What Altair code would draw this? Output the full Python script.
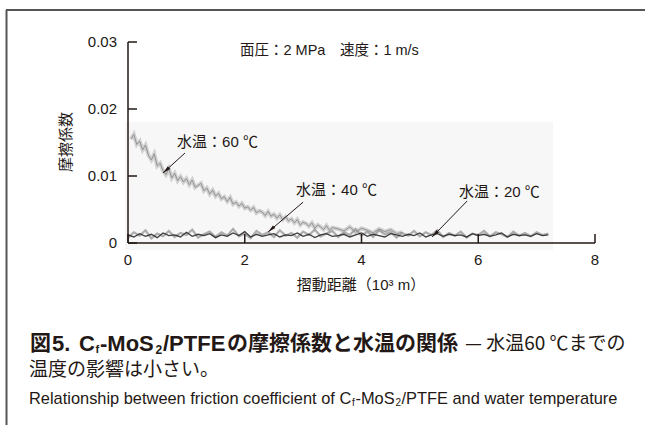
import altair as alt
import pandas as pd

# ---------------- data ----------------
x60 = [0.05, 0.10, 0.15, 0.20, 0.25, 0.30, 0.35, 0.40, 0.45, 0.50,
       0.55, 0.60, 0.65, 0.70, 0.75, 0.80, 0.85, 0.90, 0.95, 1.00,
       1.05, 1.10, 1.15, 1.20, 1.25, 1.30, 1.35, 1.40, 1.45, 1.50,
       1.55, 1.60, 1.65, 1.70, 1.75, 1.80, 1.85, 1.90, 1.95, 2.00,
       2.05, 2.10, 2.15, 2.20, 2.25, 2.30, 2.35, 2.40, 2.45, 2.50,
       2.55, 2.60, 2.65, 2.70, 2.75, 2.80, 2.85, 2.90, 2.95, 3.00,
       3.05, 3.10, 3.15, 3.20, 3.25, 3.30, 3.35, 3.40, 3.45, 3.50,
       3.60, 3.70, 3.80, 3.90, 4.00, 4.10, 4.20, 4.30, 4.40, 4.50,
       4.60, 4.70]
y60 = [0.0155, 0.0162, 0.0147, 0.0152, 0.0139, 0.0146, 0.0131, 0.0124, 0.0133, 0.0115,
       0.0119, 0.0108, 0.0102, 0.0111, 0.0097, 0.0104, 0.0093, 0.0099, 0.0091, 0.0096,
       0.0087, 0.0094, 0.0083, 0.0086, 0.0089, 0.0078, 0.0082, 0.0073, 0.0079, 0.0070,
       0.0074, 0.0066, 0.0069, 0.0062, 0.0068, 0.0058, 0.0061, 0.0055, 0.0059, 0.0052,
       0.0054, 0.0049, 0.0053, 0.0045, 0.0048, 0.0046, 0.0041, 0.0047, 0.0040, 0.0043,
       0.0037, 0.0042, 0.0035, 0.0039, 0.0033, 0.0036, 0.0030, 0.0035, 0.0027, 0.0031,
       0.0029, 0.0025, 0.0030, 0.0022, 0.0027, 0.0024, 0.0020, 0.0026, 0.0019, 0.0023,
       0.0021, 0.0018, 0.0024, 0.0016, 0.0022, 0.0019, 0.0015, 0.0021, 0.0017, 0.0020,
       0.0014, 0.0016]

x_low = [0.0, 0.1, 0.2, 0.3, 0.4, 0.5, 0.6, 0.7, 0.8, 0.9,
         1.0, 1.1, 1.2, 1.3, 1.4, 1.5, 1.6, 1.7, 1.8, 1.9,
         2.0, 2.1, 2.2, 2.3, 2.4, 2.5, 2.6, 2.7, 2.8, 2.9,
         3.0, 3.1, 3.2, 3.3, 3.4, 3.5, 3.6, 3.7, 3.8, 3.9,
         4.0, 4.1, 4.2, 4.3, 4.4, 4.5, 4.6, 4.7, 4.8, 4.9,
         5.0, 5.1, 5.2, 5.3, 5.4, 5.5, 5.6, 5.7, 5.8, 5.9,
         6.0, 6.1, 6.2, 6.3, 6.4, 6.5, 6.6, 6.7, 6.8, 6.9,
         7.0, 7.1, 7.2]
y40 = [0.0012, 0.0009, 0.0014, 0.0010, 0.0013, 0.0008, 0.0015, 0.0011, 0.0012, 0.0009,
       0.0016, 0.0010, 0.0013, 0.0011, 0.0014, 0.0008, 0.0012, 0.0010, 0.0015, 0.0011,
       0.0017, 0.0009, 0.0013, 0.0010, 0.0012, 0.0014, 0.0009, 0.0012, 0.0011, 0.0015,
       0.0010, 0.0013, 0.0008, 0.0012, 0.0014, 0.0010, 0.0011, 0.0013, 0.0009, 0.0012,
       0.0015, 0.0010, 0.0013, 0.0011, 0.0009, 0.0014, 0.0012, 0.0010, 0.0013, 0.0011,
       0.0015, 0.0009, 0.0012, 0.0014, 0.0010, 0.0013, 0.0011, 0.0012, 0.0009, 0.0014,
       0.0011, 0.0013, 0.0010, 0.0012, 0.0015, 0.0009, 0.0013, 0.0011, 0.0012, 0.0010,
       0.0014, 0.0011, 0.0012]
y20 = [0.0008, 0.0016, 0.0011, 0.0019, 0.0007, 0.0014, 0.0010, 0.0018, 0.0009, 0.0015,
       0.0012, 0.0020, 0.0008, 0.0013, 0.0017, 0.0009, 0.0016, 0.0011, 0.0021, 0.0010,
       0.0014, 0.0007, 0.0018, 0.0012, 0.0016, 0.0009, 0.0019, 0.0011, 0.0015, 0.0008,
       0.0017, 0.0012, 0.0020, 0.0010, 0.0014, 0.0018, 0.0009, 0.0016, 0.0012, 0.0021,
       0.0011, 0.0017, 0.0009, 0.0019, 0.0013, 0.0016, 0.0008, 0.0015, 0.0011, 0.0018,
       0.0010, 0.0016, 0.0012, 0.0019, 0.0009, 0.0015, 0.0011, 0.0017, 0.0008, 0.0014,
       0.0012, 0.0018, 0.0010, 0.0016, 0.0013, 0.0009, 0.0017, 0.0011, 0.0015, 0.0010,
       0.0016, 0.0012, 0.0014]

x_ticks = [0, 2, 4, 6, 8]
y_ticks = [0, 0.01, 0.02, 0.03]

label_texts = ["水温：60 ℃", "水温：40 ℃", "水温：20 ℃"]

# ---------------- annotation geometry (data coordinates) ----------------
label_pos_x = [0.84, 2.88, 5.67]
label_pos_y = [0.0151, 0.0079, 0.0076]
arrow_tail_x = [0.976, 3.0, 5.81]
arrow_tail_y = [0.01343, 0.0061, 0.00627]
arrow_head_x = [0.60, 2.40, 5.21]
arrow_head_y = [0.01045, 0.00164, 0.0009]
arrow_angle = [228, 229, 224]

# ---------------- layout ----------------
L, T = 128, 42
W, H = 467, 201
INK = "#231815"
JP = "Noto Sans CJK JP"
MIX = "Liberation Sans, Noto Sans CJK JP"
LAT = "Liberation Sans"

xs = alt.Scale(domain=[0, 8], nice=False)
ys = alt.Scale(domain=[0, 0.03], nice=False)

dummy = pd.DataFrame({"d": [0]})

df = pd.DataFrame({
    "series": ["60"] * len(x60) + ["40"] * len(x_low) + ["20"] * len(x_low),
    "x": x60 + x_low + x_low,
    "y": y60 + y40 + y20,
})


def txt(text, x, y, size=15, weight="normal", font=MIX, align="left", angle=0, color=INK):
    return alt.Chart(dummy).mark_text(
        text=text, align=align, baseline="middle", fontSize=size,
        fontWeight=weight, font=font, color=color, angle=angle
    ).encode(x=alt.value(x - L), y=alt.value(y - T))


# background faint panel
panel = alt.Chart(dummy).mark_rect(color="#f7f7f7").encode(
    x=alt.value(125 - L), x2=alt.value(553 - L), y=alt.value(122 - T), y2=alt.value(250 - T)
)

# frame
frame_top = alt.Chart(dummy).mark_rule(color="#555555", strokeWidth=2).encode(
    x=alt.value(6 - L), x2=alt.value(645 - L), y=alt.value(10 - T)
)
frame_left = alt.Chart(dummy).mark_rule(color="#555555", strokeWidth=2).encode(
    x=alt.value(6.5 - L), y=alt.value(10 - T), y2=alt.value(425 - T)
)


def series_line(name, color, width, opacity):
    return alt.Chart(df).transform_filter(alt.datum.series == name).mark_line(
        color=color, strokeWidth=width, opacity=opacity
    ).encode(
        x=alt.X("x:Q", scale=xs, axis=None),
        y=alt.Y("y:Q", scale=ys, axis=None),
        order="x:Q",
    )


l60_wide = series_line("60", "#c4c4c4", 4, 0.75)
l60 = series_line("60", "#8c8c8c", 1.0, 0.9)
l20 = series_line("20", "#9a9a9a", 2.2, 0.8)
l40 = series_line("40", "#2a2a2a", 1.3, 0.9)

# axes drawn by hand (inward ticks)
y_domain = alt.Chart(dummy).mark_rule(color=INK, strokeWidth=1.5).encode(
    x=alt.value(0), y=alt.value(0), y2=alt.value(H)
)
x_domain = alt.Chart(dummy).mark_rule(color=INK, strokeWidth=1.5).encode(
    x=alt.value(0), x2=alt.value(W), y=alt.value(H)
)
ydf = pd.DataFrame({"v": y_ticks})
xdf = pd.DataFrame({"v": x_ticks})
yt = alt.Chart(ydf).mark_rule(color=INK, strokeWidth=1.5).encode(
    y=alt.Y("v:Q", scale=ys, axis=None), x=alt.value(0), x2=alt.value(9)
)
xt = alt.Chart(xdf).mark_rule(color=INK, strokeWidth=1.5).encode(
    x=alt.X("v:Q", scale=xs, axis=None), y=alt.value(H), y2=alt.value(H - 9)
)
ylab = alt.Chart(ydf).mark_text(align="right", baseline="middle", font=LAT, fontSize=15, color=INK).encode(
    y=alt.Y("v:Q", scale=ys, axis=None), x=alt.value(-11), text=alt.Text("v:Q", format=".2~f")
)
xlab = alt.Chart(xdf).mark_text(align="center", baseline="middle", font=LAT, fontSize=15, color=INK).encode(
    x=alt.X("v:Q", scale=xs, axis=None), y=alt.value(H + 17), text=alt.Text("v:Q", format="d")
)

ann = pd.DataFrame({
    "t": label_texts, "lx": label_pos_x, "ly": label_pos_y,
    "x0": arrow_tail_x, "y0": arrow_tail_y, "x1": arrow_head_x, "y1": arrow_head_y,
    "ang": arrow_angle,
})
labels = alt.Chart(ann).mark_text(align="left", baseline="middle", font=MIX, fontSize=15, color=INK).encode(
    x=alt.X("lx:Q", scale=xs, axis=None), y=alt.Y("ly:Q", scale=ys, axis=None), text="t:N"
)
arrows = alt.Chart(ann).mark_rule(color=INK, strokeWidth=1).encode(
    x=alt.X("x0:Q", scale=xs, axis=None), y=alt.Y("y0:Q", scale=ys, axis=None),
    x2="x1:Q", y2="y1:Q"
)
heads = alt.Chart(ann).mark_point(
    shape="M0,0L-0.45,2L0.45,2Z", filled=True, color=INK, opacity=1, size=64
).encode(
    x=alt.X("x1:Q", scale=xs, axis=None), y=alt.Y("y1:Q", scale=ys, axis=None),
    angle=alt.Angle("ang:Q", scale=None)
)

texts = [
    txt("面圧：2 MPa　速度：1 m/s", 240, 51, size=14.5),
    txt("摩擦係数", 66, 142, size=15, align="center", angle=270, font=JP),
    txt("摺動距離（10³ m）", 361, 285, size=15, align="center"),
    # caption line 1
    txt("図", 30, 344, size=21, weight="bold", font=JP),
    txt("5.", 52, 344, size=22, weight="bold", font=LAT),
    txt("C", 79, 344, size=22, weight="bold", font=LAT),
    txt("f", 95.5, 350, size=11, weight="bold", font=LAT),
    txt("-MoS", 100, 344, size=22, weight="bold", font=LAT),
    txt("2", 155.5, 350, size=12, weight="bold", font=LAT),
    txt("/PTFE", 163, 344, size=22, weight="bold", font=LAT),
    txt("の摩擦係数と水温の関係", 227, 344, size=21, weight="bold", font=JP),
    txt("— 水温60 ℃までの", 465, 344, size=19, font=JP),
    # caption line 2
    txt("温度の影響は小さい。", 29, 370, size=19, font=JP),
    # caption line 3
    txt("Relationship between friction coefficient of C", 29, 399, size=16.4, font=LAT),
    txt("f", 352, 403, size=10, font=LAT),
    txt("-MoS", 355.5, 399, size=16.4, font=LAT),
    txt("2", 395.5, 403, size=10, font=LAT),
    txt("/PTFE and water temperature", 401.5, 399, size=16.4, font=LAT),
]

chart = alt.layer(
    panel, frame_top, frame_left, l60_wide, l20, l60, l40,
    y_domain, x_domain, yt, xt, ylab, xlab,
    arrows, heads, labels, *texts
).properties(
    width=W, height=H,
    padding={"left": L, "top": T, "right": 645 - L - W, "bottom": 425 - T - H},
    autosize="none", background="white",
).configure_view(stroke=None)

chart.save("out.html", embed_options={"renderer": "svg", "actions": False})
